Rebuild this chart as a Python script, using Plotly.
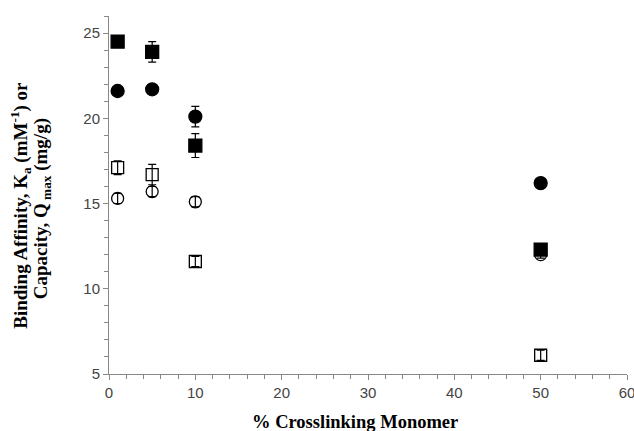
import plotly.graph_objects as go

x = [1, 5, 10, 50]
filled_sq = [24.5, 23.9, 18.4, 12.3]
filled_sq_err = [0.3, 0.6, 0.7, 0.3]
filled_ci = [21.6, 21.7, 20.1, 16.2]
filled_ci_err = [0.2, 0.2, 0.6, 0.2]
open_sq = [17.1, 16.7, 11.6, 6.1]
open_sq_err = [0.4, 0.6, 0.3, 0.3]
open_ci = [15.3, 15.7, 15.1, 12.0]
open_ci_err = [0.3, 0.3, 0.3, 0.2]

x_title = "<b>% Crosslinking Monomer</b>"
y_title_1 = "<b>Binding Affinity, K<sub>a</sub> (mM<sup>-1</sup>) or</b>"
y_title_2 = "<b>Capacity, Q<sub> max</sub> (mg/g)</b>"

fig = go.Figure()

def add(y, err, symbol, size, fill):
    fig.add_trace(go.Scatter(
        x=x, y=y, mode="markers",
        error_y=dict(type="data", array=err, visible=True, color="black", thickness=1.2, width=4),
        marker=dict(symbol=symbol, size=size, color="black" if fill else "rgba(255,255,255,0)",
                    line=dict(color="black", width=1.3)),
        showlegend=False))

add(open_sq, open_sq_err, "square", 12, False)
add(open_ci, open_ci_err, "circle", 12, False)
add(filled_sq, filled_sq_err, "square", 13, True)
add(filled_ci, filled_ci_err, "circle", 13, True)

serif = "Liberation Serif, Times New Roman, serif"
fig.update_layout(
    width=634, height=431,
    margin=dict(l=109, r=7, t=16, b=57, autoexpand=False),
    plot_bgcolor="white", paper_bgcolor="white",
    font=dict(family="Liberation Sans, Arial, sans-serif", size=15, color="#444"),
    annotations=[
        dict(text=x_title, xref="paper", yref="paper", x=0.475, y=0, xanchor="center",
             yanchor="middle", yshift=-48, showarrow=False,
             font=dict(family=serif, size=18.5, color="black")),
        dict(text=y_title_1, xref="paper", yref="paper", x=0, y=0.47, xanchor="center",
             yanchor="middle", xshift=-88, textangle=-90, showarrow=False,
             font=dict(family=serif, size=19, color="black")),
        dict(text=y_title_2, xref="paper", yref="paper", x=0, y=0.46, xanchor="center",
             yanchor="middle", xshift=-67, textangle=-90, showarrow=False,
             font=dict(family=serif, size=19, color="black")),
    ],
)
fig.update_xaxes(
    range=[0, 60], dtick=10, showgrid=False, zeroline=False,
    showline=True, linecolor="#888", linewidth=1, automargin=False,
    ticks="outside", ticklen=5, tickcolor="#888", ticklabeloverflow="allow",
    minor=dict(dtick=2, ticks="outside", ticklen=4, tickcolor="#888"),
)
fig.update_yaxes(
    range=[5, 26], tickvals=[5, 10, 15, 20, 25], showgrid=False, zeroline=False,
    showline=True, linecolor="#888", linewidth=1, automargin=False,
    ticks="outside", ticklen=5, tickcolor="#888",
    minor=dict(dtick=1, ticks="outside", ticklen=4, tickcolor="#888"),
)

fig.write_html("out.html", config={"displayModeBar": False},
               post_script="document.body.style.margin='0';")
